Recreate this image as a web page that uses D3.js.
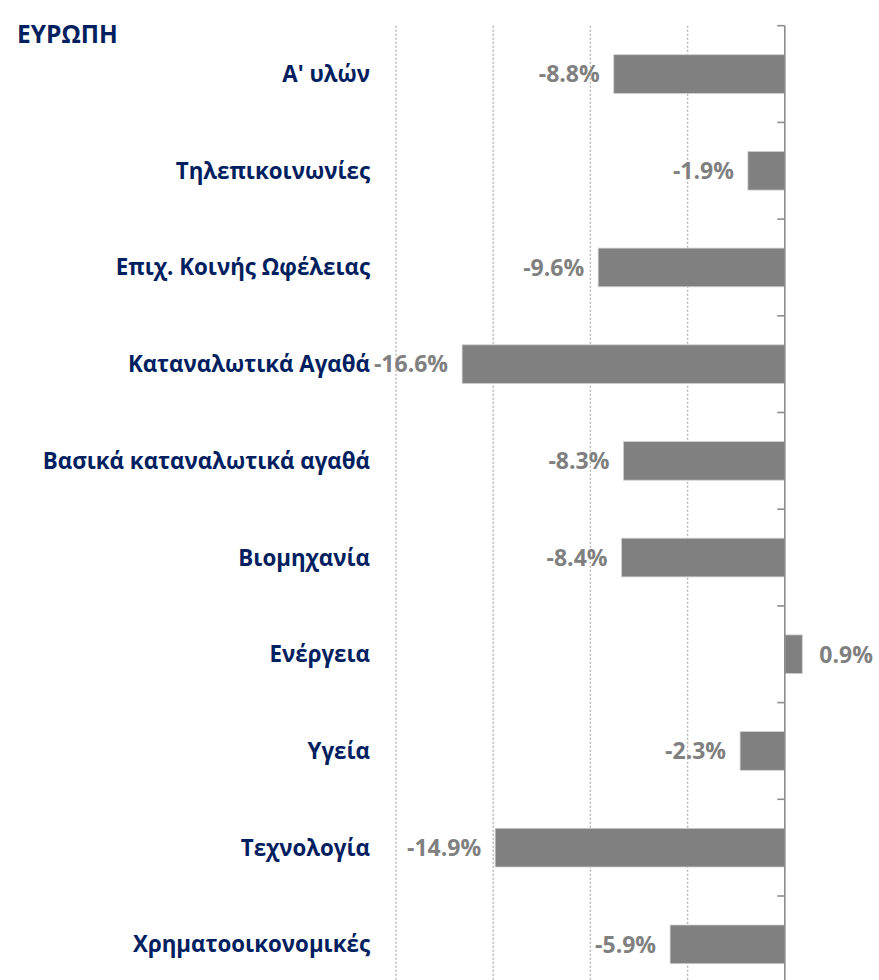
<!DOCTYPE html>
<html>
<head>
<meta charset="utf-8">
<script src="https://cdn.jsdelivr.net/npm/d3@7"></script>
<style>
  html, body { margin: 0; padding: 0; background: #ffffff; }
  svg { display: block; }
</style>
</head>
<body>
<svg id="chart" width="879" height="980"></svg>
<script>
const title = "ΕΥΡΩΠΗ";
const categories = [
  "Α' υλών",
  "Τηλεπικοινωνίες",
  "Επιχ. Κοινής Ωφέλειας",
  "Καταναλωτικά Αγαθά",
  "Βασικά καταναλωτικά αγαθά",
  "Βιομηχανία",
  "Ενέργεια",
  "Υγεία",
  "Τεχνολογία",
  "Χρηματοοικονομικές"
];
const values = [-8.8, -1.9, -9.6, -16.6, -8.3, -8.4, 0.9, -2.3, -14.9, -5.9];
const gridTicks = [-20, -15, -10, -5];
const xDomain = [-20, 5];

const svg = d3.select("#chart");
const labelFont = "'Open Sans', 'Noto Sans', sans-serif";

const x = d3.scaleLinear().domain(xDomain).range([396, 882]);
const y = d3.scaleBand().domain(categories).range([25.7, 992.7]).paddingInner(0.6).paddingOuter(0.3);
const bandStep = y.step();

// gridlines
svg.append("g").selectAll("line").data(gridTicks).join("line")
  .attr("x1", d => x(d)).attr("x2", d => x(d))
  .attr("y1", 25.7).attr("y2", 992.7)
  .attr("stroke", "#b5b5b5").attr("stroke-width", 1.4)
  .attr("stroke-dasharray", "2,2");

// bars
svg.append("g").selectAll("rect").data(values).join("rect")
  .attr("x", d => x(Math.min(0, d)))
  .attr("width", d => Math.abs(x(d) - x(0)))
  .attr("y", (d, i) => y(categories[i]))
  .attr("height", y.bandwidth())
  .attr("fill", "#808080")
  .attr("stroke", "#d0d0d0").attr("stroke-width", 0.8);

// axis line with ticks at band boundaries
const axisG = svg.append("g");
axisG.append("line")
  .attr("x1", x(0)).attr("x2", x(0))
  .attr("y1", 25.7).attr("y2", 992.7)
  .attr("stroke", "#8c8c8c").attr("stroke-width", 1.6);
const boundaries = d3.range(categories.length + 1).map(i => 25.7 + i * bandStep);
axisG.selectAll("line.tick").data(boundaries).join("line")
  .attr("class", "tick")
  .attr("x1", x(0) - 7.5).attr("x2", x(0))
  .attr("y1", d => d).attr("y2", d => d)
  .attr("stroke", "#8c8c8c").attr("stroke-width", 1.6);

// category labels
svg.append("g").selectAll("text").data(categories).join("text")
  .attr("x", 370)
  .attr("y", d => y(d) + y.bandwidth() / 2)
  .attr("dy", "0.36em")
  .attr("text-anchor", "end")
  .attr("font-family", labelFont)
  .attr("font-weight", "bold")
  .attr("font-size", 22.3)
  .attr("fill", "#002060")
  .text(d => d);

// value labels
svg.append("g").selectAll("text").data(values).join("text")
  .attr("x", d => d < 0 ? x(d) - 14 : x(d) + 17)
  .attr("y", (d, i) => y(categories[i]) + y.bandwidth() / 2)
  .attr("dy", "0.36em")
  .attr("text-anchor", d => d < 0 ? "end" : "start")
  .attr("font-family", labelFont)
  .attr("font-weight", "bold")
  .attr("font-size", 23)
  .attr("fill", "#808080")
  .text(d => d.toFixed(1) + "%");

// title
svg.append("text")
  .attr("x", 17).attr("y", 42.5)
  .attr("font-family", labelFont)
  .attr("font-weight", "bold")
  .attr("font-size", 24.5)
  .attr("fill", "#002060")
  .text(title);
</script>
</body>
</html>
